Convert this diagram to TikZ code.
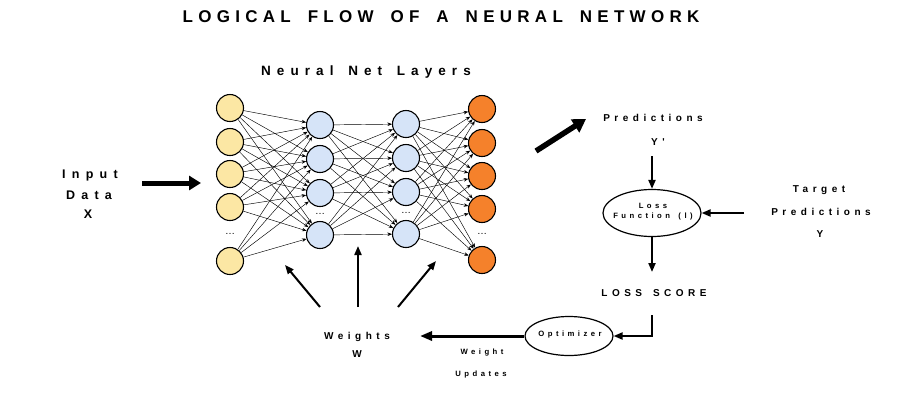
\documentclass[tikz,border=0pt]{standalone}
\usepackage{fontspec}
\setmainfont{Liberation Sans}
\newfontfamily\ttlfont[LetterSpace=31,WordSpace=1.7]{Liberation Sans}
\newfontfamily\lblfont[LetterSpace=45,WordSpace=1.5]{Liberation Sans}
\newfontfamily\inpfont[LetterSpace=50]{Liberation Sans}
\usetikzlibrary{arrows.meta,shapes.geometric}
\definecolor{yel}{HTML}{FCE7A4}
\definecolor{blu}{HTML}{D6E4F8}
\definecolor{ora}{HTML}{F5812B}
\begin{document}
\begin{tikzpicture}[x=1pt,y=-1pt,
  neuron/.style={circle,draw=black,line width=1.1pt,minimum size=27pt,inner sep=0pt},
  yn/.style={neuron,fill=yel},
  bn/.style={neuron,fill=blu},
  on/.style={neuron,fill=ora},
  edge/.style={line width=0.45pt,-{Stealth[length=4.5pt,width=3.5pt]}},
  lbl/.style={font=\lblfont\bfseries\fontsize{10}{12}\selectfont,inner sep=0pt},
  inp/.style={font=\inpfont\bfseries\fontsize{12.5}{14}\selectfont,inner sep=0pt},
  small/.style={font=\lblfont\bfseries\fontsize{7.7}{9}\selectfont,inner sep=0pt,align=center},
  dots/.style={font=\fontsize{10}{10}\selectfont,inner sep=0pt},
  bigarrow/.style={line width=5pt,-{Triangle[length=12pt,width=14pt]}},
  thinarrow/.style={line width=2pt,-{Triangle[length=9pt,width=7pt]}},
  oval/.style={ellipse,draw=black,line width=1.2pt,inner sep=0pt}
]
\useasboundingbox[fill=white] (0,0) rectangle (900,416);
% title
\node[font=\ttlfont\bfseries\fontsize{17}{19}\selectfont,inner sep=0pt] (title) at (441,17) {LOGICAL FLOW OF A NEURAL NETWORK};
\node[font=\lblfont\bfseries\fontsize{13.5}{15}\selectfont,inner sep=0pt] (layers) at (366,72) {Neural Net Layers};
% layer 1
\node[yn] (a1) at (230,108) {};
\node[yn] (a2) at (230,142) {};
\node[yn] (a3) at (230,174) {};
\node[yn] (a4) at (230,207) {};
\node[yn] (a5) at (230,261) {};
\node[dots] (da) at (230,234) {\dots};
% layer 2
\node[bn] (b1) at (320,125) {};
\node[bn] (b2) at (320,159) {};
\node[bn] (b3) at (320,193) {};
\node[bn] (b4) at (320,235) {};
\node[dots] (db) at (320,214) {\dots};
% layer 3
\node[bn] (c1) at (406,124) {};
\node[bn] (c2) at (406,158) {};
\node[bn] (c3) at (406,192) {};
\node[bn] (c4) at (406,234) {};
\node[dots] (dc) at (406,213) {\dots};
% layer 4
\node[on] (d1) at (482,109) {};
\node[on] (d2) at (482,143) {};
\node[on] (d3) at (482,176) {};
\node[on] (d4) at (482,209) {};
\node[on] (d5) at (482,260) {};
\node[dots] (dd) at (482,234) {\dots};
% edges
\foreach \i in {1,...,5}{\foreach \j in {1,...,4}{\draw[edge] (a\i) -- (b\j);}}
\foreach \i in {1,...,4}{\foreach \j in {1,...,4}{\draw[edge] (b\i) -- (c\j);}}
\foreach \i in {1,...,4}{\foreach \j in {1,...,5}{\draw[edge] (c\i) -- (d\j);}}
% input
\node[inp] (in1) at (90,175) {Input};
\node[inp] (in2) at (89,195) {Data};
\node[inp] (in3) at (88,214) {X};
\coordinate (ia) at (142,183);
\coordinate (ib) at (201,183);
\draw[bigarrow] (ia) -- (ib);
% predictions
\coordinate (pa) at (536,151);
\coordinate (pb) at (586,119);
\draw[line width=5.5pt,-{Triangle[length=13pt,width=15pt]}] (pa) -- (pb);
\node[lbl] (pred) at (653,118) {Predictions};
\node[lbl] (yp) at (658,142) {Y'};
\node[oval,minimum width=98pt,minimum height=47pt] (loss) at (652,213) {};
\node[small] (losst) at (653,212) {Loss\\[1pt]Function (l)};
\draw[thinarrow] (652,156) -- (loss.north);
\node[lbl] (t1) at (819,190) {Target};
\node[lbl] (t2) at (821,212) {Predictions};
\node[lbl] (t3) at (820,234) {Y};
\coordinate (ta) at (744,213);
\draw[thinarrow] (ta) -- (loss.east);
% loss score
\node[lbl] (score) at (654,293) {LOSS SCORE};
\coordinate (la) at (652,272);
\draw[thinarrow] (loss.south) -- (la);
% optimizer
\node[oval,minimum width=88pt,minimum height=39pt] (opt) at (569,336) {};
\node[small] (optt) at (570,335) {Optimizer};
\coordinate (sa) at (652,315);
\draw[line width=2pt,-{Triangle[length=9pt,width=7pt]}] (sa) |- (opt.east);
% weights
\node[lbl] (w1) at (357,337) {Weights};
\node[lbl] (w2) at (357,354) {W};
\coordinate (oa) at (420,336);
\draw[line width=3pt,-{Triangle[length=12pt,width=9pt]}] (opt.west) -- (oa);
\node[small] (wu1) at (482,353) {Weight};
\node[small] (wu2) at (481,375) {Updates};
\coordinate (u1a) at (320,307); \coordinate (u1b) at (285,265);
\coordinate (u2a) at (358,307); \coordinate (u2b) at (358,246);
\coordinate (u3a) at (398,307); \coordinate (u3b) at (436,261);
\draw[thinarrow] (u1a) -- (u1b);
\draw[thinarrow] (u2a) -- (u2b);
\draw[thinarrow] (u3a) -- (u3b);
\end{tikzpicture}
\end{document}
